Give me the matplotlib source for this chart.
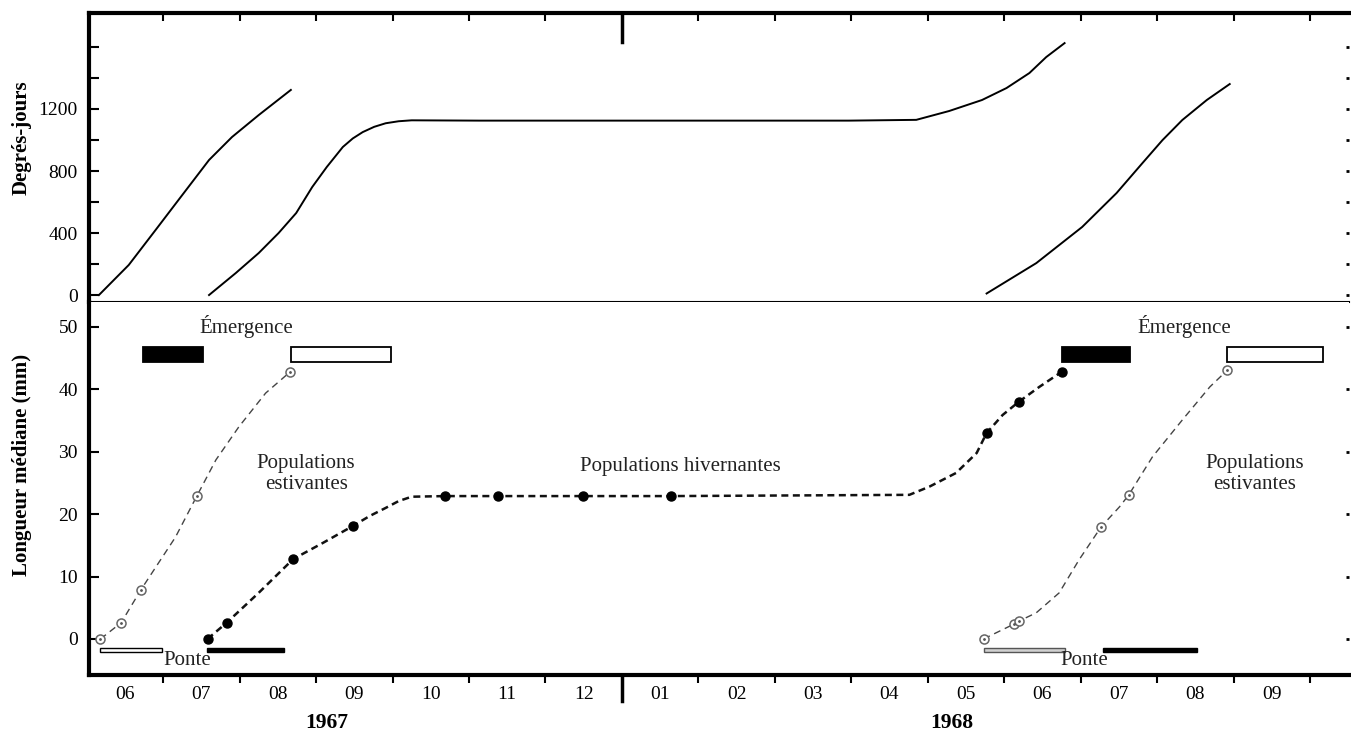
import matplotlib
matplotlib.use("Agg")
import matplotlib.pyplot as plt

plt.rcParams['font.family'] = ['Liberation Serif', 'DejaVu Serif']

# x unit: months since 1 June 1967 (7 = 1 Jan 1968)
month_labels = ['06', '07', '08', '09', '10', '11', '12', '01',
                '02', '03', '04', '05', '06', '07', '08', '09']

# --- Degrés-jours (top panel)
dd1_x = [0.16, 0.55, 0.90, 1.20, 1.60, 1.90, 2.25, 2.67]
dd1_y = [0, 194, 419, 613, 871, 1019, 1161, 1323]

dd2_x = [1.60, 1.95, 2.25, 2.51, 2.74, 2.95, 3.14, 3.35, 3.48, 3.61, 3.76,
         3.91, 4.08, 4.25, 5.13, 9.97, 10.85, 11.28, 11.71, 12.03, 12.33,
         12.55, 12.79]
dd2_y = [0, 142, 271, 400, 529, 697, 826, 955, 1010, 1051, 1085,
         1108, 1121, 1127, 1125, 1125, 1130, 1187, 1258, 1335, 1432,
         1535, 1625]

dd3_x = [11.77, 12.42, 13.02, 13.47, 13.81, 14.07, 14.33, 14.65, 14.95]
dd3_y = [10, 206, 439, 658, 852, 999, 1129, 1258, 1361]

# --- Longueur médiane (bottom panel)
est67_x = [0.18, 0.45, 0.71, 0.94, 1.16, 1.44, 1.69, 1.99, 2.34, 2.66]
est67_y = [0, 2.6, 7.9, 12.2, 16.3, 22.9, 28.7, 34.0, 39.4, 42.8]
est67_pts_x = [0.18, 0.45, 0.71, 1.44, 2.66]
est67_pts_y = [0, 2.6, 7.9, 22.9, 42.8]

hiv_x = [1.58, 1.83, 2.25, 2.70, 3.09, 3.48, 3.70, 3.91, 4.08, 4.25, 4.69,
         5.38, 6.49, 7.64, 10.76, 11.02, 11.37, 11.64, 11.77, 11.98, 12.19,
         12.46, 12.75]
hiv_y = [0, 2.6, 7.4, 12.8, 15.4, 18.1, 19.7, 21.0, 22.1, 22.8, 22.9,
         22.9, 22.9, 22.9, 23.1, 24.4, 26.6, 29.8, 33.0, 35.9, 38.0,
         40.4, 42.8]
hiv_pts_x = [1.58, 1.83, 2.70, 3.48, 4.69, 5.38, 6.49, 7.64, 11.77, 12.19, 12.75]
hiv_pts_y = [0, 2.6, 12.8, 18.1, 22.9, 22.9, 22.9, 22.9, 33.0, 38.0, 42.8]

est68_x = [11.73, 12.13, 12.20, 12.42, 12.72, 12.98, 13.27, 13.51, 13.63,
           13.94, 14.33, 14.69, 14.92]
est68_y = [0, 2.4, 2.9, 4.2, 7.4, 12.7, 18.0, 21.2, 23.1, 29.2, 35.1, 40.4, 43.1]
est68_pts_x = [11.73, 12.13, 12.20, 13.27, 13.63, 14.92]
est68_pts_y = [0, 2.4, 2.9, 18.0, 23.1, 43.1]

# periods (months)
emerg_start = [0.73, 2.67, 12.75, 14.92]
emerg_end = [1.52, 3.98, 13.65, 16.17]
ponte_start = [0.18, 1.57, 11.73, 13.29]
ponte_end = [0.99, 2.58, 12.80, 14.52]

emerg_fill = ['black', 'white', 'black', 'white']
ponte_fill = ['white', 'black', '#d0d0d0', 'black']
ponte_edge = ['black', 'black', '#555555', 'black']

fig = plt.figure(figsize=(13.51, 7.32), dpi=100)
L, W = 89 / 1351, 1260 / 1351
ax1 = fig.add_axes([L, 0.5874, W, 0.9822 - 0.5874])
ax2 = fig.add_axes([L, 0.0779, W, 0.5874 - 0.0779])

XMIN, XMAX = 0.03, 16.51

# top panel
ax1.plot(dd1_x, dd1_y, color='black', lw=1.4)
ax1.plot(dd2_x, dd2_y, color='black', lw=1.4)
ax1.plot(dd3_x, dd3_y, color='black', lw=1.4)
ax1.set_xlim(XMIN, XMAX)
ax1.set_ylim(-45, 1819)

ax1.spines['right'].set_visible(False)
ax1.spines['top'].set_linewidth(3)
ax1.spines['left'].set_linewidth(3)
ax1.spines['bottom'].set_linewidth(1.5)

yt = list(range(0, 1601, 200))
ax1.set_yticks(yt)
ax1.set_yticklabels([str(v) if v % 400 == 0 and v <= 1200 else '' for v in yt])
ax1.tick_params(axis='y', direction='in', length=7, width=1.5,
                labelsize=14, pad=8)
boundaries = [m for m in range(1, 17) if m != 7]
ax1.set_xticks(boundaries)
ax1.tick_params(axis='x', top=True, bottom=False, labelbottom=False,
                direction='in', length=6, width=1.5)
ax1.axvline(7, ymin=0.9, ymax=1, color='black', lw=2.5)
sec1 = ax1.secondary_yaxis('right')
sec1.set_yticks(yt)
sec1.tick_params(direction='in', length=2.5, width=2, labelright=False)
sec1.spines['right'].set_visible(False)

# bottom panel
ax2.plot(est67_x, est67_y, color='#444444', lw=1.0, dashes=(5, 3.5))
ax2.plot(est68_x, est68_y, color='#444444', lw=1.0, dashes=(5, 3.5))
ax2.plot(hiv_x, hiv_y, color='#111111', lw=1.8, dashes=(2.8, 1.8))

for px, py in [(est67_pts_x, est67_pts_y), (est68_pts_x, est68_pts_y)]:
    ax2.plot(px, py, 'o', mfc='white', mec='#666666', ms=6.5, mew=1.1)
    ax2.plot(px, py, '.', color='#555555', ms=2)
ax2.plot(hiv_pts_x, hiv_pts_y, 'o', color='black', ms=6.5)

ax2.barh([45.6] * 4, [e - s for s, e in zip(emerg_start, emerg_end)],
         left=emerg_start, height=2.4, color=emerg_fill,
         edgecolor='black', lw=1.3)
ax2.barh([-1.75] * 4, [e - s for s, e in zip(ponte_start, ponte_end)],
         left=ponte_start, height=0.75, color=ponte_fill,
         edgecolor=ponte_edge, lw=1.0)

tk = dict(fontsize=15, ha='center', va='center', color='#222222')
ax2.text(2.09, 50.0, 'Émergence', **tk)
ax2.text(14.36, 50.0, 'Émergence', **tk)
ax2.text(2.87, 26.5, 'Populations\nestivantes', linespacing=1.15, **tk)
ax2.text(15.27, 26.5, 'Populations\nestivantes', linespacing=1.15, **tk)
ax2.text(7.76, 27.6, 'Populations hivernantes', **tk)
ax2.text(1.31, -3.4, 'Ponte', **tk)
ax2.text(13.05, -3.4, 'Ponte', **tk)

ax2.set_xlim(XMIN, XMAX)
ax2.set_ylim(-5.77, 54.0)
ax2.spines['right'].set_visible(False)
ax2.spines['top'].set_visible(False)
ax2.spines['left'].set_linewidth(3)
ax2.spines['bottom'].set_linewidth(3)

ax2.set_yticks(range(0, 51, 10))
ax2.tick_params(axis='y', direction='in', length=7, width=1.5,
                labelsize=14, pad=8)
sec2 = ax2.secondary_yaxis('right')
sec2.set_yticks(range(0, 51, 10))
sec2.tick_params(direction='in', length=2.5, width=2, labelright=False)
sec2.spines['right'].set_visible(False)

ax2.set_xticks(boundaries)
ax2.set_xticklabels([])
ax2.set_xticks([m + 0.5 for m in range(16)], minor=True)
ax2.set_xticklabels(month_labels, minor=True)
ax2.tick_params(axis='x', which='major', direction='out', length=6, width=1.5)
ax2.tick_params(axis='x', which='minor', length=0, labelsize=14, pad=8)
ax2.axvline(7, ymin=-0.07, ymax=0, color='black', lw=2.5, clip_on=False)

xfm = ax2.get_xaxis_transform()
ax2.text(3.14, -0.129, '1967', transform=xfm, ha='center', va='center',
         fontsize=15.5, fontweight='bold')
ax2.text(11.32, -0.129, '1968', transform=xfm, ha='center', va='center',
         fontsize=15.5, fontweight='bold')

fig.text(22 / 1351, 1 - 138 / 732, 'Degrés-jours', rotation=90,
         ha='center', va='center', fontsize=15, fontweight='bold')
fig.text(22 / 1351, 1 - 465 / 732, 'Longueur médiane (mm)', rotation=90,
         ha='center', va='center', fontsize=15, fontweight='bold')

fig.savefig('out.png', dpi=100)
